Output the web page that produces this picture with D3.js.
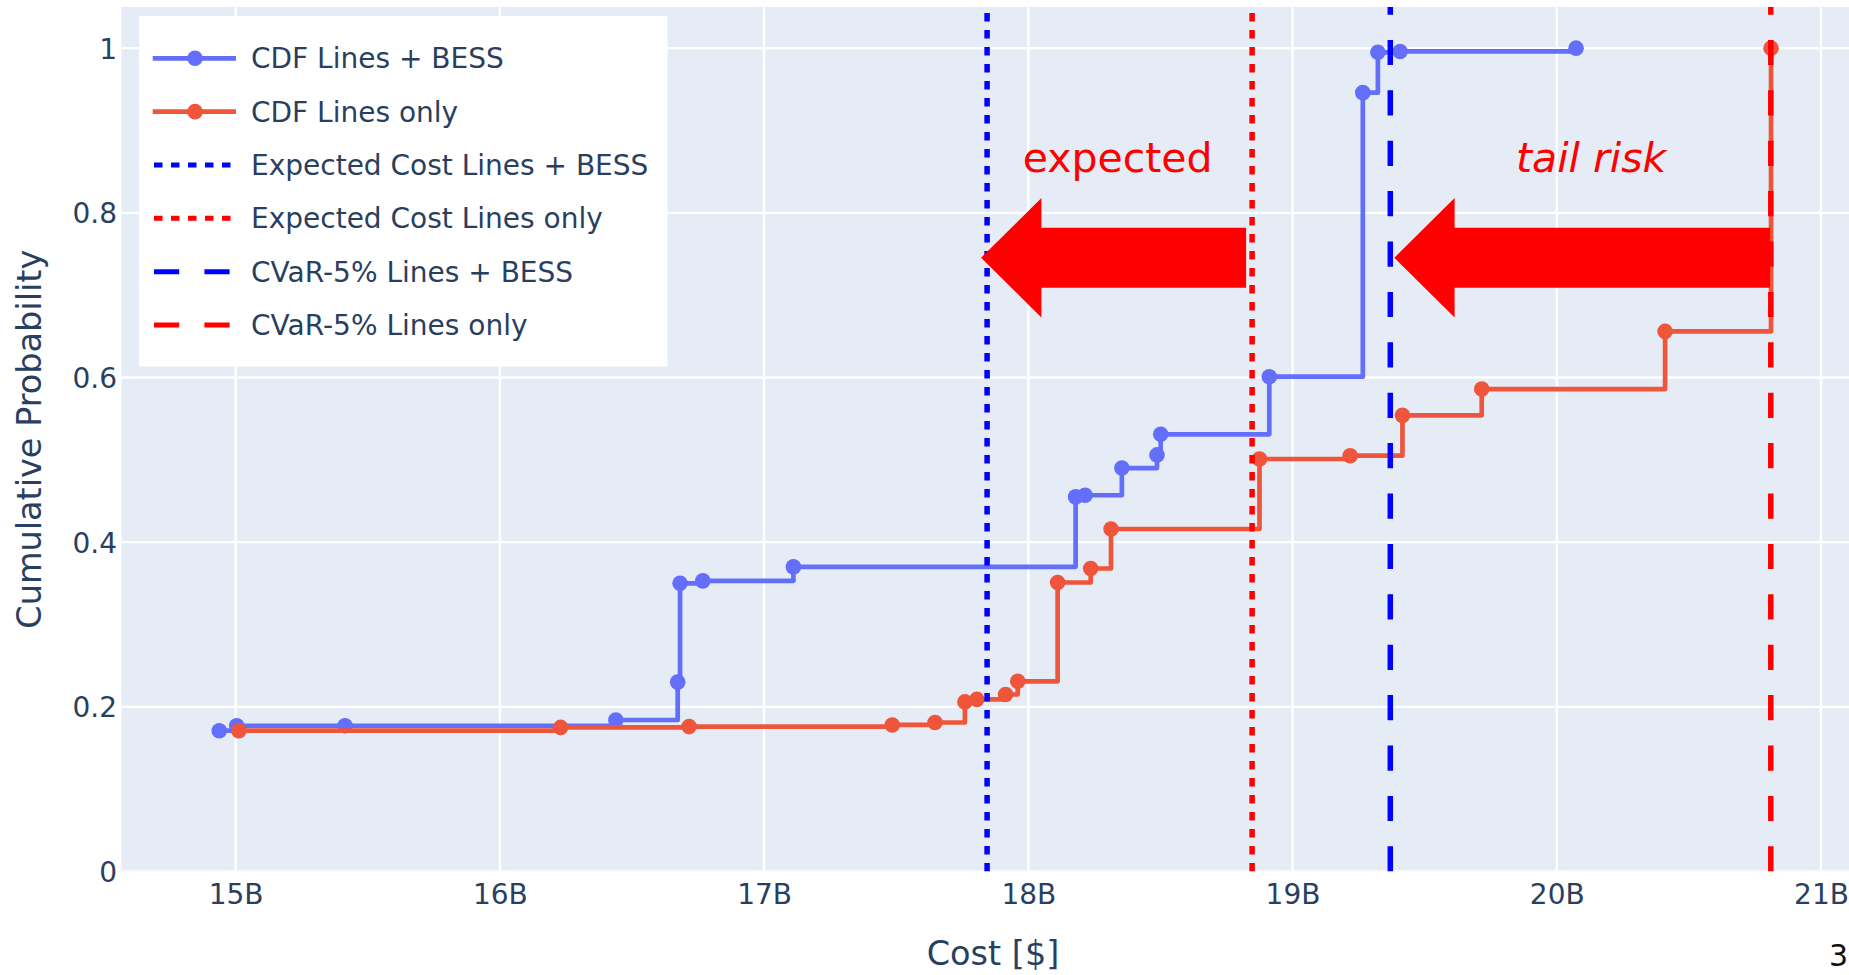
<!DOCTYPE html>
<html>
<head>
<meta charset="utf-8">
<script src="https://cdn.jsdelivr.net/npm/d3@7"></script>
<style>
  html, body { margin: 0; padding: 0; background: #fff; overflow: hidden; }
  svg { display: block; }
  text { font-family: "DejaVu Sans", Verdana, sans-serif; }
</style>
</head>
<body>
<svg id="chart" width="1849" height="975"></svg>
<script>
// Empirical CDF of total cost (in billions of $) for the two plans
const bessCost = [14.938, 15.004, 15.414, 16.439, 16.673, 16.682, 16.768, 17.111, 18.179, 18.215, 18.354, 18.487, 18.501, 18.912, 19.266, 19.323, 19.407, 20.073];
const bessProb = [0.171, 0.177, 0.177, 0.184, 0.230, 0.350, 0.353, 0.370, 0.455, 0.457, 0.490, 0.506, 0.531, 0.601, 0.946, 0.995, 0.996, 1.0];

const linesCost = [15.012, 16.230, 16.716, 17.485, 17.647, 17.760, 17.805, 17.914, 17.960, 18.111, 18.236, 18.313, 18.875, 19.218, 19.416, 19.716, 20.410, 20.811];
const linesProb = [0.171, 0.175, 0.176, 0.178, 0.181, 0.206, 0.209, 0.215, 0.231, 0.351, 0.368, 0.416, 0.501, 0.505, 0.554, 0.586, 0.656, 1.0];

// Risk measures ($B): expected cost and CVaR-5% for each plan
const refNames = ["Expected Cost Lines + BESS", "Expected Cost Lines only", "CVaR-5% Lines + BESS", "CVaR-5% Lines only"];
const refCost = [17.844, 18.847, 19.370, 20.810];

const xTickValues = [15, 16, 17, 18, 19, 20, 21];
const xTickLabels = ["15B", "16B", "17B", "18B", "19B", "20B", "21B"];
const yTickValues = [0, 0.2, 0.4, 0.6, 0.8, 1];
const yTickLabels = ["0", "0.2", "0.4", "0.6", "0.8", "1"];

// ---- layout ----
const plot = { left: 121.5, right: 1849, top: 7, bottom: 871.5 };
const FONT_COLOR = "#2a3f5f";
const BLUE_CDF = "#636efa", RED_CDF = "#EF553B";
const MARKER_R = 7.8;

const x = d3.scaleLinear().domain([14.568, 21.106]).range([plot.left, plot.right]);
const y = d3.scaleLinear().domain([0, 1.05]).range([plot.bottom, plot.top]);

const svg = d3.select("#chart");

svg.append("defs").append("clipPath").attr("id", "plotClip")
  .append("rect")
  .attr("x", plot.left).attr("y", plot.top)
  .attr("width", plot.right - plot.left).attr("height", plot.bottom - plot.top);

// plot background
svg.append("rect")
  .attr("x", plot.left).attr("y", plot.top)
  .attr("width", plot.right - plot.left).attr("height", plot.bottom - plot.top)
  .attr("fill", "#E5ECF6");

// grid
const grid = svg.append("g").attr("clip-path", "url(#plotClip)");
grid.selectAll("line.gx").data(xTickValues).join("line")
  .attr("x1", d => x(d)).attr("x2", d => x(d))
  .attr("y1", plot.top).attr("y2", plot.bottom)
  .attr("stroke", "#fff").attr("stroke-width", 2.4);
grid.selectAll("line.gy").data(yTickValues).join("line")
  .attr("x1", plot.left).attr("x2", plot.right)
  .attr("y1", d => y(d)).attr("y2", d => y(d))
  .attr("stroke", "#fff").attr("stroke-width", 2.4);

// axes (labels only, in the plotly style)
const xAxis = d3.axisBottom(x).tickValues(xTickValues)
  .tickFormat((d, i) => xTickLabels[i]).tickSize(0).tickPadding(0);
const gx = svg.append("g").attr("transform", `translate(0,${plot.bottom})`).call(xAxis);
gx.select(".domain").remove();
gx.selectAll("text")
  .attr("y", 32).attr("dy", 0)
  .attr("fill", FONT_COLOR).style("font-size", "28px")
  .style("font-family", "'DejaVu Sans', Verdana, sans-serif");

const yAxis = d3.axisLeft(y).tickValues(yTickValues)
  .tickFormat((d, i) => yTickLabels[i]).tickSize(0).tickPadding(4.5);
const gy = svg.append("g").attr("transform", `translate(${plot.left},0)`).call(yAxis);
gy.select(".domain").remove();
gy.selectAll("text")
  .attr("dy", "0.36em")
  .attr("fill", FONT_COLOR).style("font-size", "28px")
  .style("font-family", "'DejaVu Sans', Verdana, sans-serif");

// axis titles
svg.append("text")
  .attr("x", 993).attr("y", 965)
  .attr("text-anchor", "middle")
  .attr("fill", FONT_COLOR).style("font-size", "33.5px")
  .text("Cost [$]");
svg.append("text")
  .attr("transform", `translate(41,${(plot.top + plot.bottom) / 2}) rotate(-90)`)
  .attr("text-anchor", "middle")
  .attr("fill", FONT_COLOR).style("font-size", "33.5px")
  .text("Cumulative Probability");

// ---- data layer ----
const layer = svg.append("g").attr("clip-path", "url(#plotClip)");
const stepLine = d3.line().x(d => x(d[0])).y(d => y(d[1])).curve(d3.curveStepAfter);

function drawCdf(costs, probs, color) {
  const pts = costs.map((c, i) => [c, probs[i]]);
  layer.append("path").datum(pts)
    .attr("d", stepLine)
    .attr("fill", "none").attr("stroke", color)
    .attr("stroke-width", 4.7).attr("stroke-linejoin", "round");
  layer.append("g").selectAll("circle").data(pts).join("circle")
    .attr("cx", d => x(d[0])).attr("cy", d => y(d[1]))
    .attr("r", MARKER_R).attr("fill", color);
}
drawCdf(bessCost, bessProb, BLUE_CDF);
drawCdf(linesCost, linesProb, RED_CDF);

// vertical reference lines
const refColor = ["blue", "red", "blue", "red"];
const refDash = ["8.5,8.5", "8.5,8.5", "25.2,25.2", "25.2,25.2"];
layer.append("g").selectAll("line").data(refCost).join("line")
  .attr("x1", d => x(d)).attr("x2", d => x(d))
  .attr("y1", y(0)).attr("y2", y(1.05))
  .attr("stroke", (d, i) => refColor[i])
  .attr("stroke-width", 5.5)
  .attr("stroke-dasharray", (d, i) => refDash[i]);

// ---- legend ----
const legend = svg.append("g");
legend.append("rect")
  .attr("x", 139).attr("y", 16).attr("width", 528.5).attr("height", 350.5)
  .attr("fill", "#fff");
const legendItems = [
  { name: "CDF Lines + BESS", color: BLUE_CDF, dash: null, marker: true },
  { name: "CDF Lines only", color: RED_CDF, dash: null, marker: true },
  { name: refNames[0], color: refColor[0], dash: refDash[0], marker: false },
  { name: refNames[1], color: refColor[1], dash: refDash[1], marker: false },
  { name: refNames[2], color: refColor[2], dash: refDash[2], marker: false },
  { name: refNames[3], color: refColor[3], dash: refDash[3], marker: false }
];
const li = legend.selectAll("g.item").data(legendItems).join("g")
  .attr("transform", (d, i) => `translate(0,${58.3 + i * 53.35})`);
li.append("line")
  .attr("x1", d => d.marker ? 152.7 : 154).attr("x2", 236)
  .attr("y1", 0).attr("y2", 0)
  .attr("stroke", d => d.color)
  .attr("stroke-width", d => d.marker ? 4.7 : 5)
  .attr("stroke-dasharray", d => d.dash);
li.filter(d => d.marker).append("circle")
  .attr("cx", 195).attr("cy", 0).attr("r", MARKER_R).attr("fill", d => d.color);
li.append("text")
  .attr("x", 251).attr("y", 0).attr("dy", "0.36em")
  .attr("fill", FONT_COLOR).style("font-size", "28px")
  .text(d => d.name);

// ---- arrow annotations: from each "Lines only" measure to its "Lines + BESS" counterpart ----
const arrowLevel = 0.7455;
const arrows = [
  { from: refCost[1], to: refCost[0], tailPad: -6, tipPad: -6, label: "expected", italic: false, dx: 4 },
  { from: refCost[3], to: refCost[2], tailPad: -0.7, tipPad: 4, label: "tail risk", italic: true, dx: 9 }
];
const ann = svg.append("g");
arrows.forEach(a => {
  const tail = x(a.from) + a.tailPad;
  const tip = x(a.to) + a.tipPad;
  const cy = y(arrowLevel);
  const headLen = 60.3, headHalf = 59.7, shaftHalf = 30;
  const pts = [
    [tip, cy],
    [tip + headLen, cy - headHalf],
    [tip + headLen, cy - shaftHalf],
    [tail, cy - shaftHalf],
    [tail, cy + shaftHalf],
    [tip + headLen, cy + shaftHalf],
    [tip + headLen, cy + headHalf]
  ];
  ann.append("polygon")
    .attr("points", pts.map(p => p.join(",")).join(" "))
    .attr("fill", "#ff0000");
  ann.append("text")
    .attr("x", (tail + tip) / 2 + a.dx)
    .attr("y", cy - 86)
    .attr("text-anchor", "middle")
    .attr("fill", "#ff0000")
    .style("font-size", "41px")
    .style("font-style", a.italic ? "italic" : "normal")
    .text(a.label);
});

// slide page number
svg.append("text")
  .attr("x", 1829).attr("y", 966)
  .attr("fill", "#111").style("font-size", "30px")
  .text("3");
</script>
</body>
</html>
